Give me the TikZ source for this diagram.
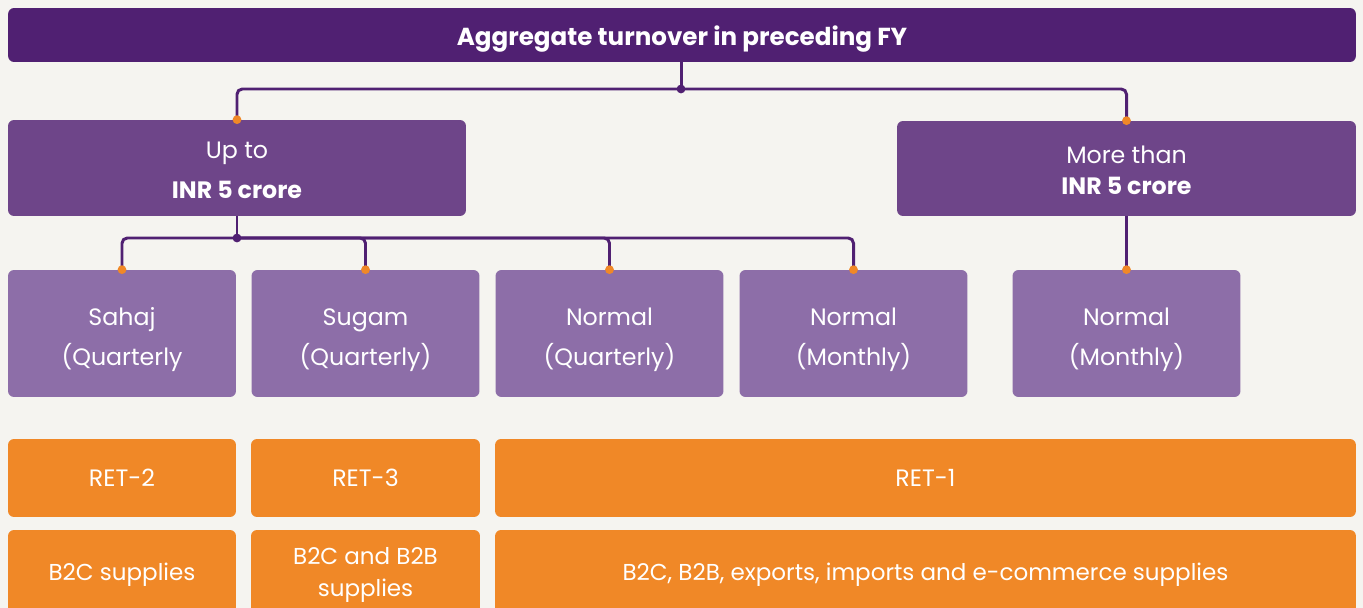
\documentclass[tikz,border=0pt]{standalone}
\usepackage{fontspec}
\setmainfont{Poppins}
\usetikzlibrary{positioning}
\definecolor{bgcol}{HTML}{F5F4F0}
\definecolor{deeppurple}{HTML}{502072}
\definecolor{midpurple}{HTML}{6E4589}
\definecolor{lightpurple}{HTML}{8D6EA8}
\definecolor{gstorange}{HTML}{F08827}

\begin{document}
\begin{tikzpicture}[
    x=0.02cm, y=-0.02cm,
    box/.style={rounded corners=3.4pt, inner sep=2pt, text=white, align=center,
                font=\fontsize{13.5}{23.25}\selectfont},
    head/.style={box, fill=deeppurple, font=\fontsize{14}{17}\selectfont\bfseries,
                 text height=12.5pt, text depth=0pt},
    slab/.style={box, fill=midpurple, text depth=0pt},
    form/.style={box, fill=lightpurple, minimum width=4.56cm, minimum height=2.54cm,
                 text height=36.9pt, text depth=0pt},
    ret/.style={box, fill=gstorange, minimum height=1.56cm},
    supply/.style={box, fill=gstorange, minimum height=1.8cm,
                   font=\fontsize{13.1}{18}\selectfont},
    link/.style={deeppurple, line width=1.7pt, rounded corners=3pt},
    tip/.style={gstorange},
    knot/.style={deeppurple}
]
    \fill[bgcol] (0,0) rectangle (1363,608);
    \useasboundingbox (0,0) rectangle (1363,608);

    % turnover
    \node[head, minimum width=26.96cm, minimum height=1.08cm] (top) at (682,35)
        {Aggregate turnover in preceding FY};

    \node[slab, minimum width=9.16cm, minimum height=1.92cm, text height=35.2pt]
        (upto) at (237,168) {Up to\\\textbf{INR 5 crore}};
    \node[slab, minimum width=9.18cm, minimum height=1.9cm, text height=30pt,
          font=\fontsize{13.5}{18.1}\selectfont] (more) at (1126.5,168.5)
        {More than\\\textbf{INR 5 crore}};

    % return types
    \node[form] (sahaj)   at (122,333.5)    {Sahaj\\(Quarterly};
    \node[form] (sugam)   at (365.5,333.5)  {Sugam\\(Quarterly)};
    \node[form] (normq)   at (609.5,333.5)  {Normal\\(Quarterly)};
    \node[form] (normm)   at (853.5,333.5)  {Normal\\(Monthly)};
    \node[form] (normbig) at (1126.5,333.5) {Normal\\(Monthly)};

    % forms
    \node[ret, minimum width=4.56cm]  (ret2) at (122,478)   {RET-2};
    \node[ret, minimum width=4.58cm]  (ret3) at (365.5,478) {RET-3};
    \node[ret, minimum width=17.22cm] (ret1) at (925.5,478) {RET-1};

    \node[supply, minimum width=4.56cm]  (sup2) at (122,575)   {B2C supplies};
    \node[supply, minimum width=4.58cm] (sup3) at (365.5,575)
        {B2C and B2B\\supplies};
    \node[supply, minimum width=17.22cm] (sup1) at (925.5,575)
        {B2C, B2B, exports, imports and e-commerce supplies};

    % links
    \coordinate (jtop) at (681,89);
    \coordinate (jup)  at (237,238);
    \draw[link] (top.south -| jtop) -- (jtop);
    \draw[link] (jtop) -| (upto.north);
    \draw[link] (jtop) -| (more.north);

    \draw[link] (upto.south) -- (jup);
    \draw[link] (jup) -| (sahaj.north);
    \draw[link] (jup) -| (sugam.north);
    \draw[link] (jup) -| (normq.north);
    \draw[link] (jup) -| (normm.north);
    \draw[link] (more.south) -- (normbig.north);

    \fill[knot] (jtop) circle (2.5pt);
    \fill[knot] (jup) circle (2.5pt);
    \foreach \n in {upto,more,sahaj,sugam,normq,normm,normbig}
        \fill[tip] (\n.north) circle (2.5pt);
\end{tikzpicture}
\end{document}
